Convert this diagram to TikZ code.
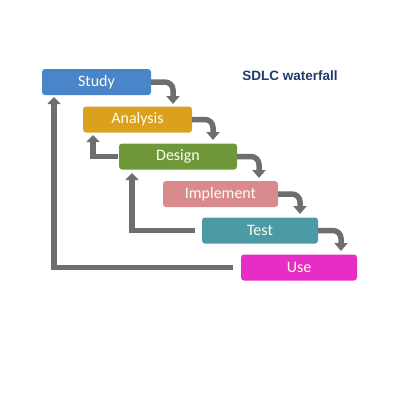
\documentclass[tikz,border=0pt]{standalone}
\usepackage{fontspec}
\setmainfont{Carlito}
\newfontfamily\titlefont{Liberation Sans}
\usetikzlibrary{arrows.meta}

\definecolor{studyblue}{HTML}{4A85C9}
\definecolor{analysisgold}{HTML}{DCA11C}
\definecolor{designgreen}{HTML}{6F983A}
\definecolor{implpink}{HTML}{D98A8C}
\definecolor{testteal}{HTML}{4C9AA6}
\definecolor{usemagenta}{HTML}{E62EC6}
\definecolor{arrowgrey}{HTML}{6E6E6E}
\definecolor{titleblue}{HTML}{1F3A6E}

\begin{document}
\begin{tikzpicture}[x = 1pt, y = -1pt,
	phase/.style = {rounded corners = 3pt, minimum height = 26pt, text = white!92!yellow,
		font = \fontsize{16}{16}\selectfont, inner sep = 0pt},
	flow/.style = {draw = arrowgrey, line width = 5.5pt, rounded corners = 8pt,
		-{Triangle[length = 8pt, width = 13pt]}},
	back/.style = {draw = arrowgrey, line width = 5.5pt,
		-{Triangle[length = 7pt, width = 13pt]}}]

	\useasboundingbox (0, 0) rectangle (400, 400);

	% The phases

	\node [phase, fill = studyblue, minimum width = 109pt] (study) at (96.5, 82) {Study};
	\node [phase, fill = analysisgold, minimum width = 109pt] (analysis) at (137.5, 119.5) {Analysis};
	\node [phase, fill = designgreen, minimum width = 118pt] (design) at (178, 156.5) {Design};
	\node [phase, fill = implpink, minimum width = 115pt] (implement) at (220.5, 194) {Implement};
	\node [phase, fill = testteal, minimum width = 116pt] (test) at (260, 230.5) {Test};
	\node [phase, fill = usemagenta, minimum width = 116pt] (use) at (299, 267.5) {Use};

	\node [text = titleblue, font = \titlefont\fontsize{13.5}{13.5}\selectfont\bfseries] (title) at (290, 76) {SDLC waterfall};

	% Going down the steps

	\coordinate (down-1) at (173, 104);
	\coordinate (down-2) at (213, 140);
	\coordinate (down-3) at (259, 178);
	\coordinate (down-4) at (300, 214);
	\coordinate (down-5) at (341, 251);

	\draw [flow] (study.east) -| (down-1);
	\draw [flow] (analysis.east) -| (down-2);
	\draw [flow] (design.east) -| (down-3);
	\draw [flow] (implement.east) -| (down-4);
	\draw [flow] (test.east) -| (down-5);

	% Going back up

	\coordinate (up-1) at (93, 135);
	\coordinate (up-2) at (132, 173);
	\coordinate (up-3) at (54, 97);

	\draw [back] ([xshift = -1pt] design.west) -| (up-1);
	\draw [back] ([xshift = -7pt] test.west) -| (up-2);
	\draw [back] ([xshift = -8pt] use.west) -| (up-3);

\end{tikzpicture}
\end{document}
